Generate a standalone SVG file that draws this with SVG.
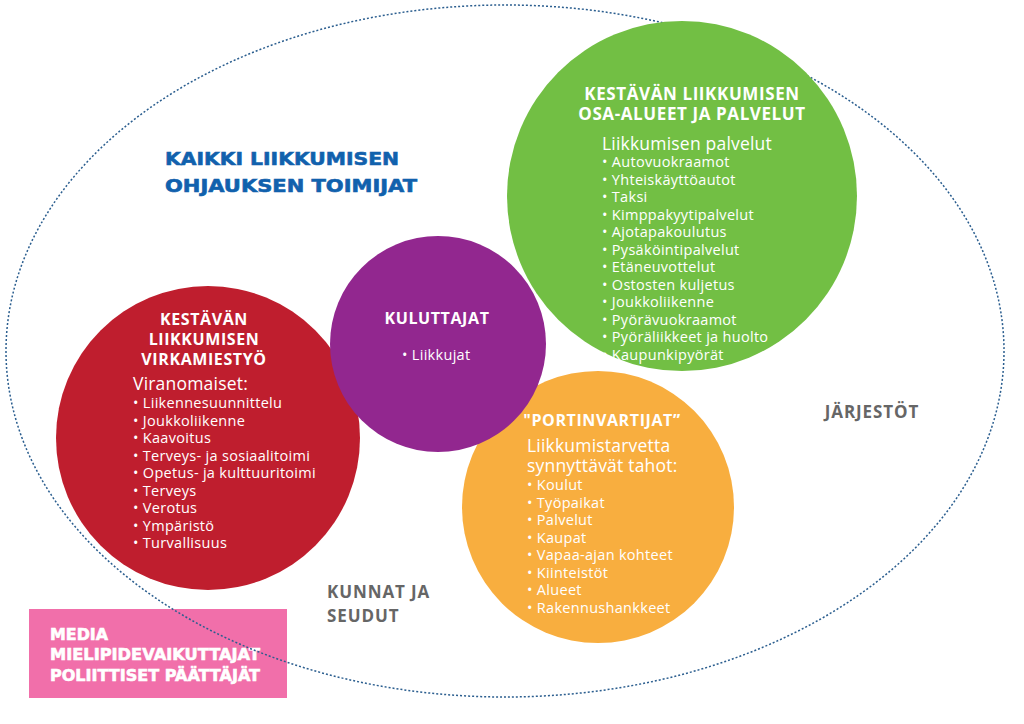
<svg xmlns="http://www.w3.org/2000/svg" width="1024" height="724" viewBox="0 0 1024 724">
<style>
.t{font-family:"Open Sans","Liberation Sans",sans-serif;fill:#fff;font-weight:700;text-anchor:middle;letter-spacing:0.6px}
.s{font-family:"Open Sans","Liberation Sans",sans-serif;fill:#fff;font-size:17.5px;letter-spacing:0.2px}
.b{font-family:"Open Sans","Liberation Sans",sans-serif;fill:#fff;font-size:14.5px;letter-spacing:0.3px}
.g{font-family:"Open Sans","Liberation Sans",sans-serif;fill:#666;font-weight:700;font-size:17px;letter-spacing:0.9px}
.k{font-family:"DejaVu Sans","Liberation Sans",sans-serif;font-weight:700;stroke-width:0.6px}
</style>
<rect width="1024" height="724" fill="#fff"/>
<g id="media">
<rect x="29" y="609" width="258" height="89" fill="#F16FAA"/>
<text class="k" fill="#fff" stroke="#fff" font-size="15.5"><tspan x="50" y="640" textLength="58" lengthAdjust="spacingAndGlyphs">MEDIA</tspan><tspan x="50" y="660" textLength="210" lengthAdjust="spacingAndGlyphs">MIELIPIDEVAIKUTTAJAT</tspan><tspan x="50" y="681" textLength="210" lengthAdjust="spacingAndGlyphs">POLIITTISET PÄÄTTÄJÄT</tspan></text>
</g>
<g id="all-actors">
<ellipse cx="505" cy="351" rx="499" ry="346" fill="none" stroke="#2B5E8F" stroke-width="1.5" stroke-dasharray="2 2"/>
<text class="k" fill="#1161AD" stroke="#1161AD" font-size="17.5"><tspan x="165" y="165" textLength="234" lengthAdjust="spacingAndGlyphs">KAIKKI LIIKKUMISEN</tspan><tspan x="165" y="192" textLength="252" lengthAdjust="spacingAndGlyphs">OHJAUKSEN TOIMIJAT</tspan></text>
</g>
<g id="jarjestot"><text class="g" x="872" y="418" text-anchor="middle">JÄRJESTÖT</text></g>
<g id="kunnat"><text class="g" font-size="17.5"><tspan x="327" y="598">KUNNAT JA</tspan><tspan x="327" y="622">SEUDUT</tspan></text></g>
<g id="virkamiestyo">
<circle cx="208" cy="438" r="152" fill="#BF1E2E"/>
<text class="t" font-size="16"><tspan x="204" y="325">KESTÄVÄN</tspan><tspan x="204" y="345">LIIKKUMISEN</tspan><tspan x="204" y="365">VIRKAMIESTYÖ</tspan></text>
<text class="s" x="133" y="390">Viranomaiset:</text>
<text class="b"><tspan x="133" y="408">• Liikennesuunnittelu</tspan><tspan x="133" y="425.5">• Joukkoliikenne</tspan><tspan x="133" y="443">• Kaavoitus</tspan><tspan x="133" y="460.5">• Terveys- ja sosiaalitoimi</tspan><tspan x="133" y="478">• Opetus- ja kulttuuritoimi</tspan><tspan x="133" y="495.5">• Terveys</tspan><tspan x="133" y="513">• Verotus</tspan><tspan x="133" y="530.5">• Ympäristö</tspan><tspan x="133" y="548">• Turvallisuus</tspan></text>
</g>
<g id="portinvartijat">
<circle cx="598" cy="507" r="136" fill="#F8AE3F"/>
<text class="t" font-size="16" x="602" y="426">"PORTINVARTIJAT”</text>
<text class="s"><tspan x="527" y="452">Liikkumistarvetta</tspan><tspan x="527" y="472">synnyttävät tahot:</tspan></text>
<text class="b"><tspan x="527" y="490">• Koulut</tspan><tspan x="527" y="507.5">• Työpaikat</tspan><tspan x="527" y="525">• Palvelut</tspan><tspan x="527" y="542.5">• Kaupat</tspan><tspan x="527" y="560">• Vapaa-ajan kohteet</tspan><tspan x="527" y="577.5">• Kiinteistöt</tspan><tspan x="527" y="595">• Alueet</tspan><tspan x="527" y="612.5">• Rakennushankkeet</tspan></text>
</g>
<g id="osa-alueet">
<circle cx="682" cy="196" r="175" fill="#72BF44"/>
<text class="t" font-size="17"><tspan x="692" y="100">KESTÄVÄN LIIKKUMISEN</tspan><tspan x="692" y="120">OSA-ALUEET JA PALVELUT</tspan></text>
<text class="s" x="602" y="150">Liikkumisen palvelut</text>
<text class="b"><tspan x="602" y="167">• Autovuokraamot</tspan><tspan x="602" y="184.5">• Yhteiskäyttöautot</tspan><tspan x="602" y="202">• Taksi</tspan><tspan x="602" y="219.5">• Kimppakyytipalvelut</tspan><tspan x="602" y="237">• Ajotapakoulutus</tspan><tspan x="602" y="254.5">• Pysäköintipalvelut</tspan><tspan x="602" y="272">• Etäneuvottelut</tspan><tspan x="602" y="289.5">• Ostosten kuljetus</tspan><tspan x="602" y="307">• Joukkoliikenne</tspan><tspan x="602" y="324.5">• Pyörävuokraamot</tspan><tspan x="602" y="342">• Pyöräliikkeet ja huolto</tspan><tspan x="602" y="359.5">• Kaupunkipyörät</tspan></text>
</g>
<g id="kuluttajat">
<circle cx="438" cy="344" r="108" fill="#92278F"/>
<text class="t" font-size="16" x="437" y="324">KULUTTAJAT</text>
<text class="b" x="402" y="360">• Liikkujat</text>
</g>
<g id="connectors"/>
</svg>
